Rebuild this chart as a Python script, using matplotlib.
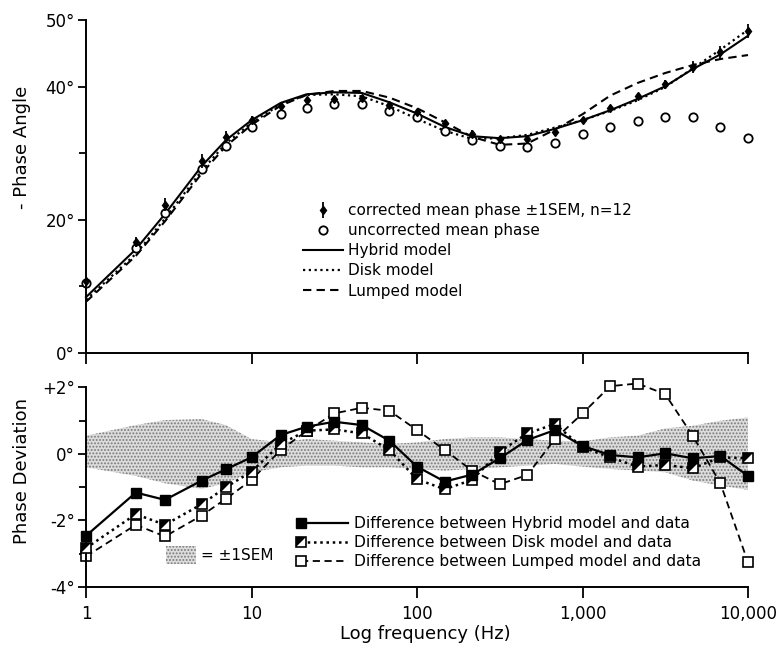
import numpy as np
import matplotlib
matplotlib.use("Agg")
import matplotlib.pyplot as plt
from matplotlib.lines import Line2D
from matplotlib.patches import Patch
from matplotlib.legend_handler import HandlerLine2DCompound, HandlerTuple
from matplotlib.ticker import FixedLocator, NullLocator

# frequencies (Hz) of the measured points
freq = [1, 2, 3, 5, 7, 10, 15, 21.5, 31.6, 46.4, 68.1, 100, 147, 215, 316,
        464, 681, 1000, 1470, 2150, 3160, 4640, 6810, 10000]

# top panel: -phase angle (deg)
corrected = [10.8, 16.7, 22.3, 28.9, 32.5, 35.1, 37.1, 38.1, 38.2, 38.3, 37.3, 36.3,
             34.6, 33.0, 32.2, 32.2, 33.2, 35.0, 36.8, 38.6, 40.4, 43.0, 45.2, 48.4]
sem = [0.5, 0.8, 1.0, 1.05, 0.85, 0.5, 0.35, 0.4, 0.4, 0.4, 0.35, 0.4,
       0.5, 0.5, 0.45, 0.4, 0.35, 0.4, 0.5, 0.55, 0.7, 0.85, 1.0, 1.1]
uncorrected = [10.5, 15.8, 21.1, 27.7, 31.1, 34.0, 35.9, 36.9, 37.4, 37.4, 36.4, 35.5,
               33.4, 32.0, 31.1, 31.0, 31.6, 32.9, 34.0, 34.9, 35.5, 35.5, 34.0, 32.3]
hybrid = [8.4, 15.6, 20.9, 28.1, 32.0, 35.0, 37.6, 38.9, 39.2, 39.1, 37.7, 36.0,
          34.0, 32.6, 32.3, 32.6, 33.7, 35.0, 36.5, 38.2, 40.1, 42.7, 44.9, 47.7]
disk = [8.0, 14.9, 20.2, 27.4, 31.5, 34.6, 37.4, 38.8, 38.9, 38.6, 37.1, 35.2,
        33.4, 32.2, 32.3, 32.8, 33.9, 35.0, 36.4, 38.0, 40.0, 42.8, 45.6, 48.6]
lumped = [7.7, 14.6, 19.8, 27.0, 31.1, 34.3, 37.2, 38.8, 39.4, 39.4, 38.4, 36.8,
          34.7, 32.5, 31.3, 31.5, 33.6, 35.9, 38.7, 40.6, 42.1, 43.3, 44.2, 44.8]

# bottom panel: model minus data (deg)
dev_hybrid = [-2.46, -1.16, -1.38, -0.80, -0.46, -0.10, 0.57, 0.82, 0.97, 0.87, 0.40, -0.38,
              -0.83, -0.62, -0.13, 0.42, 0.72, 0.24, -0.03, -0.10, 0.02, -0.13, -0.06, -0.66]
dev_disk = [-2.83, -1.81, -2.13, -1.51, -1.00, -0.53, 0.30, 0.70, 0.74, 0.62, 0.12, -0.76,
            -1.06, -0.78, 0.07, 0.62, 0.90, 0.20, -0.10, -0.38, -0.33, -0.43, -0.10, -0.13]
dev_lumped = [-3.08, -2.13, -2.48, -1.85, -1.35, -0.78, 0.12, 0.69, 1.22, 1.39, 1.30, 0.72,
              0.12, -0.50, -0.91, -0.63, 0.45, 1.22, 2.04, 2.12, 1.80, 0.54, -0.88, -3.26]
sem_upper = [0.55, 0.87, 1.02, 1.05, 0.87, 0.45, 0.35, 0.45, 0.4, 0.35, 0.3, 0.35,
             0.45, 0.5, 0.5, 0.45, 0.4, 0.38, 0.5, 0.55, 0.77, 0.85, 1.0, 1.1]
sem_lower = [-0.4, -0.66, -0.88, -1.05, -0.88, -0.55, -0.4, -0.35, -0.35, -0.4, -0.4, -0.45,
             -0.5, -0.45, -0.4, -0.35, -0.3, -0.38, -0.45, -0.5, -0.55, -0.8, -0.95, -1.08]

xticks = [1, 10, 100, 1000, 10000]
xticklabels = ['1', '10', '100', '1,000', '10,000']
top_yticks = [0, 20, 40, 50]
top_ylabels = ['0°', '20°', '40°', '50°']
bot_yticks = [-4, -2, 0, 2]
bot_ylabels = ['-4°', '-2°', '0°', '+2°']

plt.rcParams['font.family'] = 'DejaVu Sans'
plt.rcParams['hatch.linewidth'] = 0.9

fig = plt.figure(figsize=(7.77, 6.56), dpi=100)
ax1 = fig.add_axes([0.1107, 0.4619, 0.852, 0.5069])
ax2 = fig.add_axes([0.1107, 0.1052, 0.852, 0.3041])


def style_axis(ax):
    ax.set_xscale('log')
    ax.set_xlim(1, 10000)
    for s in ['top', 'right']:
        ax.spines[s].set_visible(False)
    for s in ['left', 'bottom']:
        ax.spines[s].set_linewidth(1.4)
    ax.xaxis.set_major_locator(FixedLocator(xticks))
    ax.xaxis.set_minor_locator(NullLocator())
    ax.tick_params(which='both', direction='out', width=1.3, labelsize=12)
    ax.tick_params(axis='x', which='major', length=8, pad=5)
    ax.tick_params(axis='y', which='major', length=6, pad=2)
    ax.tick_params(axis='y', which='minor', length=5)


# ---------------- top panel ----------------
style_axis(ax1)
ax1.set_ylim(0, 50)
ax1.set_xticklabels([])
ax1.yaxis.set_major_locator(FixedLocator(top_yticks))
ax1.set_yticklabels(top_ylabels)
ax1.yaxis.set_minor_locator(FixedLocator([10, 30]))

h_hyb, = ax1.plot(freq, hybrid, color='black', lw=1.5, ls='-', clip_on=False)
h_disk, = ax1.plot(freq, disk, color='black', lw=1.6, ls=(0, (1, 1.6)), clip_on=False)
h_lump, = ax1.plot(freq, lumped, color='black', lw=1.5, ls=(0, (4, 2.5)), clip_on=False)
h_unc, = ax1.plot(freq, uncorrected, ls='none', marker='o', ms=6, mfc='white',
                  mec='black', mew=1.3, clip_on=False)
h_cor = ax1.errorbar(freq, corrected, yerr=sem, fmt='d', ms=4.5, color='black',
                     elinewidth=1.3, capsize=0, clip_on=False)

ax1.legend([h_cor, h_unc, h_hyb, h_disk, h_lump],
           ['corrected mean phase ±1SEM, n=12', 'uncorrected mean phase',
            'Hybrid model', 'Disk model', 'Lumped model'],
           loc='upper left', bbox_to_anchor=(0.39, 0.69), bbox_transform=fig.transFigure,
           frameon=False, fontsize=11, handlelength=2.6, handletextpad=0.35,
           labelspacing=0.33, borderpad=0, borderaxespad=0)

fig.text(0.028, 1 - 147 / 656, '- Phase Angle', rotation=90, ha='center', va='center',
         fontsize=13)

# ---------------- bottom panel ----------------
style_axis(ax2)
ax2.set_ylim(-4, 2)
ax2.yaxis.set_major_locator(FixedLocator(bot_yticks))
ax2.set_yticklabels(bot_ylabels)
ax2.yaxis.set_minor_locator(FixedLocator([-3, -1, 1]))
ax2.set_xticklabels(xticklabels)

ax2.fill_between(freq, sem_lower, sem_upper, facecolor='#dcdcdc', edgecolor='#7a7a7a',
                 hatch='.....', lw=0, zorder=1)

tri = [(-1, -1), (-1, 1), (1, 1)]
l_hyb, = ax2.plot(freq, dev_hybrid, color='black', lw=1.6, ls='-', marker='s', ms=7,
                  mfc='black', mec='black', zorder=4, clip_on=False)
l_disk, = ax2.plot(freq, dev_disk, color='black', lw=1.8, ls=(0, (1, 1.5)), marker='s',
                   ms=7, mfc='white', mec='black', mew=1.2, zorder=3, clip_on=False)
l_disk_tri, = ax2.plot(freq, dev_disk, ls='none', marker=tri, ms=7, mfc='black',
                       mec='black', mew=0, zorder=3, clip_on=False)
l_lump, = ax2.plot(freq, dev_lumped, color='black', lw=1.3, ls=(0, (4, 2.5)), marker='s',
                   ms=7, mfc='white', mec='black', mew=1.2, zorder=2, clip_on=False)


class LeftMarker(HandlerLine2DCompound):
    def get_xdata(self, legend, xdescent, ydescent, width, height, fontsize):
        xdata = np.array([-xdescent, -xdescent + width])
        return xdata, xdata[:1]


leg = ax2.legend([l_hyb, (l_disk, l_disk_tri), l_lump],
                 ['Difference between Hybrid model and data',
                  'Difference between Disk model and data',
                  'Difference between Lumped model and data'],
                 handler_map={Line2D: LeftMarker(), tuple: HandlerTuple(ndivide=1)},
                 loc='upper left', bbox_to_anchor=(0.388, 0.213),
                 bbox_transform=fig.transFigure, frameon=False, fontsize=11.2,
                 handlelength=3.0, handletextpad=0.4, labelspacing=0.26,
                 borderpad=0, borderaxespad=0)
ax2.add_artist(leg)

sem_patch = Patch(facecolor='#dcdcdc', edgecolor='#7a7a7a', hatch='.....', lw=0)
ax2.legend([sem_patch], ['= ±1SEM'], loc='upper left', bbox_to_anchor=(0.213, 0.167),
           bbox_transform=fig.transFigure, frameon=False, fontsize=11,
           handlelength=2.0, handleheight=1.4, handletextpad=0.3, borderpad=0,
           borderaxespad=0)

fig.text(0.028, 1 - 471 / 656, 'Phase Deviation', rotation=90, ha='center', va='center',
         fontsize=13)
fig.text(0.547, 1 - 634 / 656, 'Log frequency (Hz)', ha='center', va='center', fontsize=13)

fig.savefig('out.png', dpi=100)
